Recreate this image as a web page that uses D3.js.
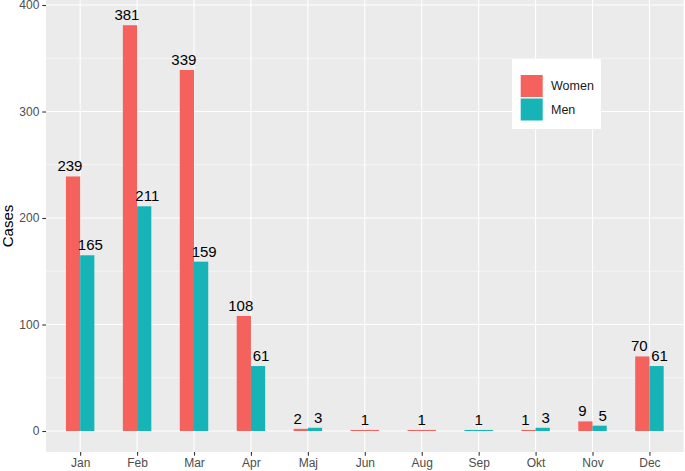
<!DOCTYPE html>
<html>
<head>
<meta charset="utf-8">
<script src="https://cdn.jsdelivr.net/npm/d3@7"></script>
<style>
  html, body { margin: 0; padding: 0; background: #fff; }
  svg { display: block; font-family: "Liberation Sans", Arial, Helvetica, sans-serif; }
</style>
</head>
<body>
<svg id="chart" width="685" height="471"></svg>
<script>
// monthly case counts, null = no bar
const months = ['Jan', 'Feb', 'Mar', 'Apr', 'Maj', 'Jun', 'Aug', 'Sep', 'Okt', 'Nov', 'Dec'];
const women = [239, 381, 339, 108, 2, 1, 1, null, 1, 9, 70];
const men = [165, 211, 159, 61, 3, null, null, 1, 3, 5, 61];
const seriesNames = ['Women', 'Men'];
const seriesColors = ['#F5615C', '#17B4B7'];
const yTicks = [0, 100, 200, 300, 400];
const yMinor = [50, 150, 250, 350];

const svg = d3.select('#chart');

const panel = { left: 46, right: 683.6, top: 0, bottom: 452 };

const x = d3.scalePoint()
  .domain(months)
  .range([panel.left, panel.right])
  .padding(0.6);

const y = d3.scaleLinear()
  .domain([0, 400])
  .range([431, 5]);

const step = x.step();
const barW = step * 0.25;     // each bar, dodge width 0.5
const labelOff = step * 0.179; // text dodge is a bit wider

// panel
svg.append('rect')
  .attr('x', panel.left)
  .attr('y', panel.top)
  .attr('width', panel.right - panel.left)
  .attr('height', panel.bottom - panel.top)
  .attr('fill', '#EBEBEB');

const grid = svg.append('g');
grid.selectAll('.minor')
  .data(yMinor)
  .join('line')
  .attr('x1', panel.left).attr('x2', panel.right)
  .attr('y1', (d) => y(d)).attr('y2', (d) => y(d))
  .attr('stroke', '#fff').attr('stroke-width', 0.55);
grid.selectAll('.major')
  .data(yTicks)
  .join('line')
  .attr('x1', panel.left).attr('x2', panel.right)
  .attr('y1', (d) => y(d)).attr('y2', (d) => y(d))
  .attr('stroke', '#fff').attr('stroke-width', 1.1);
grid.selectAll('.vmajor')
  .data(months)
  .join('line')
  .attr('x1', (d) => x(d)).attr('x2', (d) => x(d))
  .attr('y1', panel.top).attr('y2', panel.bottom)
  .attr('stroke', '#fff').attr('stroke-width', 1.1);

// build bar records
const bars = [];
months.forEach((m, i) => {
  const vals = [women[i], men[i]];
  const present = vals.map((v, k) => ({ v, k })).filter((d) => d.v != null);
  present.forEach((d) => {
    const single = present.length === 1;
    const bx = single ? x(m) - barW : x(m) + (d.k === 0 ? -barW : 0);
    const w = single ? barW * 2 : barW;
    const lx = single ? x(m) : x(m) + (d.k === 0 ? -labelOff : labelOff);
    bars.push({ month: m, value: d.v, series: d.k, bx, w, lx });
  });
});

svg.append('g')
  .selectAll('rect')
  .data(bars)
  .join('rect')
  .attr('x', (d) => d.bx)
  .attr('width', (d) => d.w)
  .attr('y', (d) => y(d.value))
  .attr('height', (d) => y(0) - y(d.value))
  .attr('fill', (d) => seriesColors[d.series]);

svg.append('g')
  .selectAll('text')
  .data(bars)
  .join('text')
  .attr('x', (d) => d.lx)
  .attr('y', (d) => y(d.value) - 5)
  .attr('text-anchor', 'middle')
  .attr('font-size', 15)
  .attr('fill', '#000')
  .text((d) => d.value);

// axes
const yAxis = svg.append('g')
  .attr('transform', `translate(${panel.left},0)`)
  .call(d3.axisLeft(y).tickValues(yTicks).tickSize(3.7).tickPadding(3));
const xAxis = svg.append('g')
  .attr('transform', `translate(0,${panel.bottom})`)
  .call(d3.axisBottom(x).tickSize(3.7).tickPadding(2.5));

[yAxis, xAxis].forEach((a) => {
  a.select('.domain').remove();
  a.selectAll('.tick line').attr('stroke', '#333').attr('stroke-width', 1.1);
  a.selectAll('.tick text')
    .attr('fill', '#4D4D4D')
    .attr('font-size', 12)
    .attr('font-family', '"Liberation Sans", Arial, Helvetica, sans-serif');
});

svg.append('text')
  .attr('transform', `translate(12.5,${(panel.top + panel.bottom) / 2}) rotate(-90)`)
  .attr('text-anchor', 'middle')
  .attr('font-size', 15)
  .attr('fill', '#000')
  .text('Cases');

// legend
const legend = svg.append('g').attr('transform', 'translate(512,59)');
legend.append('rect')
  .attr('width', 89).attr('height', 70)
  .attr('fill', '#fff');
seriesNames.forEach((name, i) => {
  legend.append('rect')
    .attr('x', 8.7)
    .attr('y', 16 + i * 23.5)
    .attr('width', 22)
    .attr('height', 22)
    .attr('fill', seriesColors[i]);
  legend.append('text')
    .attr('x', 39)
    .attr('y', 27 + i * 23.5)
    .attr('dy', '0.35em')
    .attr('font-size', 12.5)
    .attr('fill', '#1a1a1a')
    .text(name);
});
</script>
</body>
</html>
